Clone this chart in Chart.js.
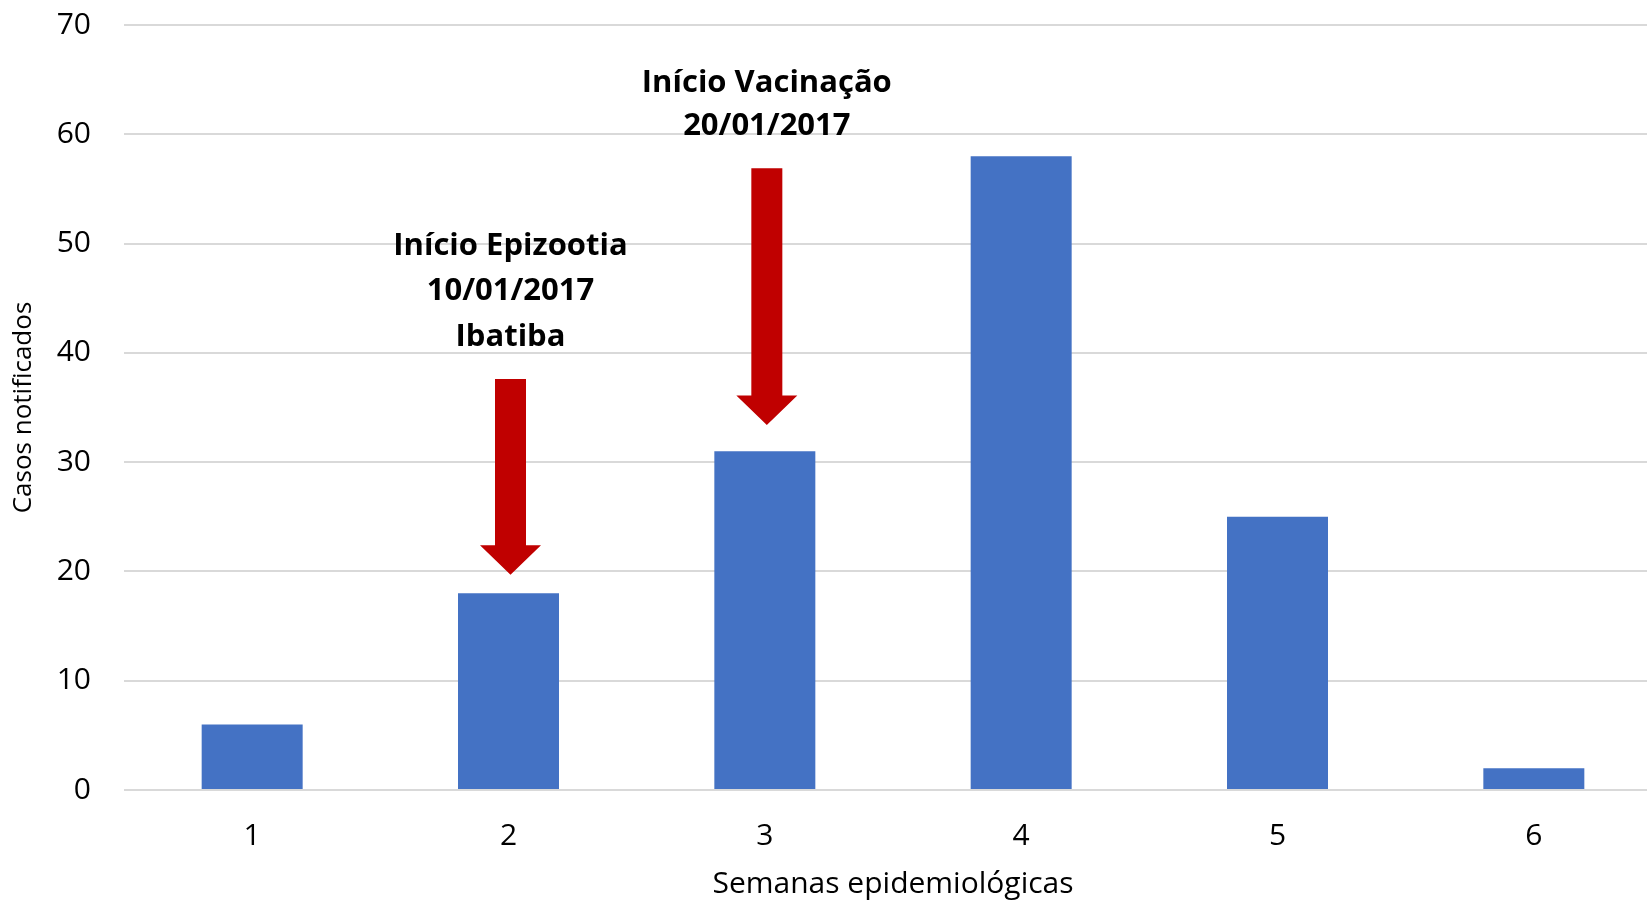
<!DOCTYPE html>
<html>
<head>
<meta charset="utf-8">
<script src="https://cdn.jsdelivr.net/npm/chart.js@4.4.1/dist/chart.umd.min.js"></script>
<style>
  html, body { margin: 0; padding: 0; background: #fff; overflow: hidden; }
  #wrap { position: relative; width: 1670px; height: 902px; }
</style>
</head>
<body>
<div id="wrap"><canvas id="casesChart"></canvas></div>
<script>
// semanas epidemiológicas e casos notificados
const weeks = ['1', '2', '3', '4', '5', '6'];
const cases = [6, 18, 31, 58, 25, 2];
const yTicks = [0, 10, 20, 30, 40, 50, 60, 70];

// anotações (setas vermelhas), em unidades do eixo y
const noteWeek = [1, 2]; // índice da semana
const noteLines = [
    ['Início Epizootia', '10/01/2017', 'Ibatiba'],
    ['Início Vacinação', '20/01/2017']
];
const noteTextBase = [49.0, 63.9]; // linha de base do primeiro texto
const arrowTop = [37.6, 56.9];
const arrowNeck = [22.4, 36.1];
const arrowTip = [19.7, 33.4];

const BLUE = '#4472C4';
const RED = '#C00000';
const FONT = '"Open Sans", "Noto Sans", sans-serif';

const arrowPlugin = {
    id: 'arrowNotes',
    afterDatasetsDraw(chart) {
        const ctx = chart.ctx;
        const xs = chart.scales.x, ys = chart.scales.y;
        const lineGap = [45.5, 43];
        ctx.save();
        for (let i = 0; i < noteWeek.length; i++) {
            const cx = xs.getPixelForValue(noteWeek[i]) + 2;
            const top = ys.getPixelForValue(arrowTop[i]);
            const neck = ys.getPixelForValue(arrowNeck[i]);
            const tip = ys.getPixelForValue(arrowTip[i]);
            const shaft = 15.5, head = 30.5;
            ctx.fillStyle = RED;
            ctx.beginPath();
            ctx.moveTo(cx - shaft, top);
            ctx.lineTo(cx + shaft, top);
            ctx.lineTo(cx + shaft, neck);
            ctx.lineTo(cx + head, neck);
            ctx.lineTo(cx, tip);
            ctx.lineTo(cx - head, neck);
            ctx.lineTo(cx - shaft, neck);
            ctx.closePath();
            ctx.fill();

            // texto
            ctx.fillStyle = '#000';
            ctx.font = 'bold 31px ' + FONT;
            ctx.textAlign = 'center';
            ctx.textBaseline = 'alphabetic';
            const base = ys.getPixelForValue(noteTextBase[i]);
            noteLines[i].forEach((t, k) => {
                ctx.fillText(t, cx, base + k * lineGap[i]);
            });
        }
        ctx.restore();
    }
};

const ctx = document.getElementById('casesChart').getContext('2d');
new Chart(ctx, {
    type: 'bar',
    data: {
        labels: weeks,
        datasets: [{
            label: 'Casos notificados',
            data: cases,
            backgroundColor: BLUE,
            borderWidth: 0,
            categoryPercentage: 1.0,
            barPercentage: 0.394
        }]
    },
    options: {
        responsive: true,
        maintainAspectRatio: false,
        animation: false,
        layout: { padding: { top: 25, right: 8, bottom: 0, left: 0 } },
        plugins: {
            legend: { display: false },
            tooltip: { enabled: false }
        },
        scales: {
            x: {
                grid: { display: false, drawTicks: false },
                border: { display: false },
                ticks: { color: '#000', font: { family: FONT, size: 30 }, padding: 28 },
                title: {
                    display: true,
                    text: 'Semanas epidemiológicas',
                    color: '#000',
                    font: { family: FONT, size: 30 },
                    padding: { top: 0, bottom: 0 }
                },
                afterFit(scale) { scale.height = 112; }
            },
            y: {
                min: 0,
                max: 70,
                afterBuildTicks(scale) { scale.ticks = yTicks.map(v => ({ value: v })); },
                grid: { color: '#D9D9D9', lineWidth: 2, drawTicks: false },
                border: { display: false },
                ticks: { color: '#000', font: { family: FONT, size: 30 }, padding: 33 },
                title: {
                    display: true,
                    text: 'Casos notificados',
                    color: '#000',
                    font: { family: FONT, size: 26 },
                    padding: { top: 8, bottom: 0 }
                },
                afterFit(scale) {
                    scale.width = 124;
                    // o padding dos ticks não deve empurrar a área do gráfico
                    scale.paddingTop = 0;
                    scale.paddingBottom = 0;
                }
            }
        }
    },
    plugins: [arrowPlugin]
});
</script>
</body>
</html>
